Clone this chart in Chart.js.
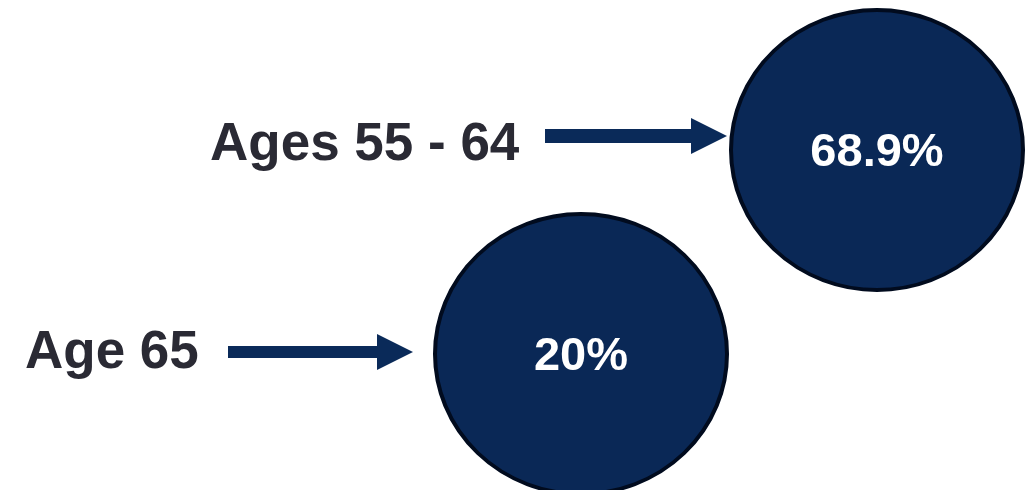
<!DOCTYPE html>
<html>
<head>
<meta charset="utf-8">
<script src="https://cdn.jsdelivr.net/npm/chart.js@4.4.1/dist/chart.umd.min.js"></script>
<style>
    html, body { margin: 0; padding: 0; background: #ffffff; }
    #wrap { width: 1032px; height: 490px; position: relative; }
</style>
</head>
<body>
<div id="wrap"><canvas id="chart"></canvas></div>
<script>
// Data
const categories = ['Ages 55 - 64', 'Age 65'];
const shares = [68.9, 20];
const shareLabels = ['68.9%', '20%'];

// Layout (page pixels, the hidden scales are set so they map 1:1 to the canvas)
const W = 1032, H = 490;
const LAYOUT = [
    { cx: 877, cy: 150, rx: 146, ry: 140, labelX: 210, labelY: 160, arrowFrom: 545, arrowTo: 727, arrowY: 136, shaft: 14 },
    { cx: 581, cy: 354, rx: 146, ry: 140, labelX: 25, labelY: 368, arrowFrom: 228, arrowTo: 413, arrowY: 352, shaft: 12 },
];
const BORDER = 4;

const FILL = '#0a2856';
const EDGE = '#010b1e';
const ARROW = '#0a2a59';
const TEXT = '#2a2a34';

const datasets = categories.map((name, i) => ({
    label: name,
    data: [{ x: LAYOUT[i].cx, y: LAYOUT[i].cy, r: LAYOUT[i].rx, v: shares[i] }],
    backgroundColor: FILL,
    borderColor: EDGE,
    borderWidth: BORDER,
    hoverBackgroundColor: FILL,
    hoverBorderColor: EDGE,
    clip: false,
}));

// bubble charts pad the chart area by the largest radius (+ border);
// widen the scale bounds by the same amount so values stay page pixels
const pad = Math.max(...LAYOUT.map(l => l.rx)) + BORDER;

// squash each bubble into the slightly flattened ellipse of the original
const ellipsePlugin = {
    id: 'ellipse',
    beforeDatasetDraw(chart, args) {
        const el = args.meta.data[0];
        const L = LAYOUT[args.index];
        const ctx = chart.ctx;
        ctx.save();
        ctx.translate(el.x, el.y);
        ctx.scale(1, L.ry / L.rx);
        ctx.translate(-el.x, -el.y);
    },
    afterDatasetDraw(chart) {
        chart.ctx.restore();
    },
};

const annotatePlugin = {
    id: 'annotate',
    afterDatasetsDraw(chart) {
        const ctx = chart.ctx;
        const xs = chart.scales.x, ys = chart.scales.y;
        ctx.save();
        categories.forEach((name, i) => {
            const L = LAYOUT[i];
            const el = chart.getDatasetMeta(i).data[0];

            // value in the middle of the bubble
            ctx.fillStyle = '#ffffff';
            ctx.font = 'bold 47px "Liberation Sans", Arial, sans-serif';
            ctx.textAlign = 'center';
            ctx.textBaseline = 'middle';
            ctx.fillText(shareLabels[i], el.x, el.y + 3);

            // category label
            ctx.fillStyle = TEXT;
            ctx.font = 'bold 53px "Liberation Sans", Arial, sans-serif';
            ctx.textAlign = 'left';
            ctx.textBaseline = 'alphabetic';
            ctx.fillText(name, xs.getPixelForValue(L.labelX), ys.getPixelForValue(L.labelY));

            // arrow
            const x0 = xs.getPixelForValue(L.arrowFrom);
            const x1 = xs.getPixelForValue(L.arrowTo);
            const y = ys.getPixelForValue(L.arrowY);
            const headLen = 36, headHalf = 18, half = L.shaft / 2;
            ctx.fillStyle = ARROW;
            ctx.beginPath();
            ctx.moveTo(x0, y - half);
            ctx.lineTo(x1 - headLen, y - half);
            ctx.lineTo(x1 - headLen, y - headHalf);
            ctx.lineTo(x1, y);
            ctx.lineTo(x1 - headLen, y + headHalf);
            ctx.lineTo(x1 - headLen, y + half);
            ctx.lineTo(x0, y + half);
            ctx.closePath();
            ctx.fill();
        });
        ctx.restore();
    },
};

new Chart(document.getElementById('chart'), {
    type: 'bubble',
    data: { datasets },
    options: {
        responsive: true,
        maintainAspectRatio: false,
        animation: false,
        layout: { padding: 0 },
        scales: {
            x: { type: 'linear', min: pad, max: W - pad, display: false },
            y: { type: 'linear', min: pad, max: H - pad, reverse: true, display: false },
        },
        plugins: {
            legend: { display: false },
            tooltip: { enabled: false },
        },
        events: [],
    },
    plugins: [ellipsePlugin, annotatePlugin],
});
</script>
</body>
</html>
